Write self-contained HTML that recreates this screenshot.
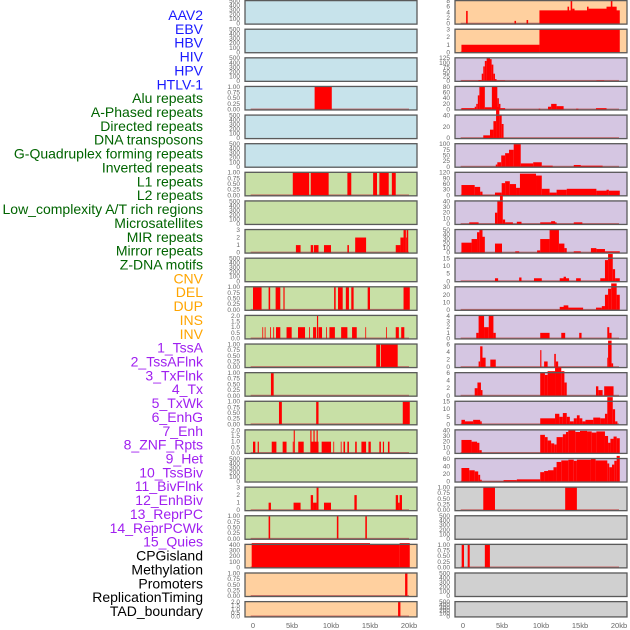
<!DOCTYPE html>
<html><head><meta charset="utf-8"><style>
html,body{margin:0;padding:0;background:#fff;width:630px;height:630px;overflow:hidden}
svg{display:block;font-family:"Liberation Sans",sans-serif}
</style></head><body>
<svg id="chart" width="630" height="630" viewBox="0 0 630 630" xmlns="http://www.w3.org/2000/svg"></svg>
<script>
const labels=["AAV2","EBV","HBV","HIV","HPV","HTLV-1","Alu repeats","A-Phased repeats","Directed repeats","DNA transposons","G-Quadruplex forming repeats","Inverted repeats","L1 repeats","L2 repeats","Low_complexity A/T rich regions","Microsatellites","MIR repeats","Mirror repeats","Z-DNA motifs","CNV","DEL","DUP","INS","INV","1_TssA","2_TssAFlnk","3_TxFlnk","4_Tx","5_TxWk","6_EnhG","7_Enh","8_ZNF_Rpts","9_Het","10_TssBiv","11_BivFlnk","12_EnhBiv","13_ReprPC","14_ReprPCWk","15_Quies","CPGisland","Methylation","Promoters","ReplicationTiming","TAD_boundary"];
const labelColors=[].concat(Array(6).fill("#1a1aff"),Array(13).fill("#006400"),Array(5).fill("#ffa500"),Array(15).fill("#a020f0"),Array(5).fill("#000000"));
const xTicks=[0,5,10,15,20];
const xTickLabels=["0","5kb","10kb","15kb","20kb"];
const T500=[0,100,200,300,400,500],T1=[0,0.25,0.5,0.75,1];
// left column panels (rows 0..21)
const leftBg=["b","b","b","b","b","b","g","g","g","g","g","g","g","g","g","g","g","g","g","o","o","o"];
const leftTicks=[T500,T500,T500,T1,T500,T500,T1,T500,[0,1,2,3],T500,T1,[0,0.5,1,1.5,2],T1,T1,T1,[0,0.5,1,1.5,2],T500,[0,1,2,3],T1,[0,100,200,300,400],T1,[0,0.5,1,1.5,2]];
const leftSegs=[[],[],[],[[7.9,10.1,1]],[],[],
[[5.1,7.2,1],[7.4,9.7,1],[12.1,12.6,1],[15.4,15.9,1],[16.2,17.4,1],[17.8,18.3,1]],
[],
[[5.5,6.1,1],[7.4,7.7,1],[7.8,8.4,1],[9.1,10,1],[12.1,12.3,1],[13.1,14.5,2],[18.3,18.9,1],[18.9,19.3,2],[19.3,19.6,3],[19.6,19.7,2],[19.7,19.9,3]],
[],
[[0,1.1,1],[2,2.2,1],[2.9,3.5,1],[3.9,4.05,1],[10.4,10.6,1],[10.9,11.5,1],[11.9,12.3,1],[12.6,12.9,1],[14.7,15,1],[19.3,20.1,1]],
[[1.2,1.3,1],[1.5,1.6,1],[2.2,2.3,1],[2.6,2.7,1],[2.95,3.5,1],[4.3,4.96,1],[5.77,6.67,1],[7.2,7.3,1],[7.7,8.1,1],[8.2,8.35,2],[8.4,8.85,1],[9.36,9.46,1],[9.8,10.5,1],[11.3,12.1,1],[12.7,13.3,1],[14.4,14.5,1],[17.05,17.15,1],[18.3,18.7,1],[19.0,19.4,1]],
[[15.8,16.3,1],[16.4,18.55,1]],
[[2.3,2.65,1]],
[[3.33,3.7,1],[8.1,8.4,1],[19.2,20.1,1]],
[[0,0.3,1],[0.6,0.75,1],[2.4,3.0,1],[3.8,4.3,1],[5.1,5.2,1],[5.22,5.36,2],[5.8,6.5,1],[7.4,8.4,1],[7.35,7.5,2],[7.75,7.9,2],[8.15,8.3,2],[8.8,10.0,1],[10.3,10.4,1],[11.25,11.35,1],[11.6,11.8,1],[12.1,12.3,1],[13.1,13.3,1],[13.9,14.5,1],[14.8,15.1,1],[16.2,16.4,1],[16.65,16.8,1],[17.3,17.5,1]],
[],
[[2.0,2.3,1],[5.2,6.1,1],[7.4,7.7,2],[7.7,8.15,1],[8.15,8.4,3],[9.1,10,1],[13.0,13.3,2],[18.3,18.6,2],[18.6,18.8,1],[18.8,19.1,2]],
[[2.0,2.2,1],[10.75,10.95,1],[14.4,14.6,1]],
[[-0.17,15,430],[15,18.8,405],[18.8,20.1,430]],
[[19.5,19.8,1]],
[[18.6,18.9,2]]];
// right column panels (rows 0..21)
const rightBg=["o","o","p","p","p","p","p","p","p","p","p","p","p","p","p","p","p","y","y","y","y","y"];
const rightTicks=[[0,2,4,6,8],[0,1,2,3],[0,25,50,75,100,125],[0,20,40,60,80],[0,20,40],[0,25,50,75,100],[0,30,60,90,120],[0,10,20,30,40],[0,10,20,30,40,50],[0,5,10,15],[0,10,20,30],[0,1,2,3,4],[0,2,4,6],[0,2,4,6],[0,5,10,15],[0,10,20,30,40],[0,20,40,60],T1,T500,T1,T500,T500];
const rightSegs=[
[[0.4,0.6,4.5],[6.6,6.8,1],[8.15,8.35,1.3],[9.8,20.1,4.7],[13.4,13.6,6],[13.8,14.0,8.5],[14.0,14.3,5.3],[15.9,16.1,6],[16.1,18.4,5.3],[18.4,19.7,6],[18.95,19.15,8.5]],
[[-0.2,9.8,1],[9.8,20.1,3]],
[[-0.2,1.97,2],[1.97,2.4,5],[2.4,2.6,40],[2.6,2.8,80],[2.8,3.03,110],[3.03,3.46,125],[3.46,3.67,120],[3.67,3.89,90],[3.89,4.1,40],[4.1,4.3,10],[4.3,5.4,3],[17.1,18.1,3]],
[[-0.2,1.5,5],[1.5,1.7,10],[1.7,1.9,20],[1.9,2.1,50],[2.1,2.8,80],[2.8,3.7,8],[3.7,4.4,80],[4.4,4.6,40],[4.6,4.8,20],[4.8,5.4,5],[9.7,9.9,3],[10.9,11.3,10],[11.3,12.0,20],[12.0,12.9,12],[14.5,14.8,3],[17.05,18.4,5]],
[[2.6,3.46,5],[3.46,3.9,15],[3.9,4.24,30],[4.24,4.66,55],[4.66,4.96,40],[4.96,5.2,25]],
[[4.2,4.4,10],[4.4,4.9,20],[4.9,5.4,50],[5.4,5.9,60],[5.9,6.5,75],[6.5,7.4,100],[7.4,9.0,15],[9.0,10.1,20],[10.1,11.5,5],[14.2,15.1,8],[15.1,17.9,5]],
[[-0.2,1.5,55],[1.5,2.2,45],[2.2,2.5,20],[2.5,4.1,3],[4.1,4.96,15],[4.96,5.4,65],[5.4,6.0,75],[6.0,6.8,60],[6.8,7.3,40],[7.3,9.36,115],[9.36,10.1,105],[10.1,11.1,35],[11.1,12.0,15],[12.0,13.3,30],[13.3,17.1,35],[17.1,18.4,25],[18.4,18.7,30],[18.7,20.1,25]],
[[0.8,2.0,3],[4.1,4.4,20],[4.4,4.74,40],[4.74,5.1,50],[5.1,5.4,8],[5.4,6.4,3],[6.9,7.5,4],[9.9,12.0,3],[11.3,11.8,5],[14.2,15.3,3]],
[[-0.2,1.1,22],[1.1,1.8,30],[1.8,2.1,45],[2.1,2.5,50],[2.5,2.8,35],[4.1,5.0,20],[6.7,7.2,3],[9.5,9.9,5],[9.9,11.1,30],[11.1,12.3,50],[12.3,13.0,20],[13.0,13.3,10],[14.2,15.1,3],[16.4,17.1,10],[17.1,18.2,8],[18.2,20.1,3]],
[[4.1,4.5,2],[7.2,7.5,2.5],[9.1,10.1,2],[12.4,13.6,2],[12.9,13.2,3],[14.5,15.1,2],[17.6,18.2,2],[18.2,18.6,14],[18.6,19.2,18],[19.2,19.5,8],[19.5,20.1,2]],
[[12.4,13.5,4],[12.9,13.5,6],[13.5,15.4,3],[17.05,17.8,3],[17.8,18.2,5],[18.2,18.6,20],[18.6,19.0,28],[19.0,19.7,35],[19.7,20.1,20]],
[[1.7,2.0,1],[2.0,2.7,4],[2.7,3.3,2],[3.3,3.9,4],[3.9,4.2,1],[9.9,11.1,1],[12.6,13.1,1],[14.9,15.2,1],[18.5,18.75,2],[18.75,19.05,1]],
[[2.0,2.2,1.5],[2.2,2.5,5.5],[2.5,2.9,2.5],[3.5,4.2,2],[9.9,10.05,4.5],[10.4,10.85,1.5],[11.7,11.9,3.5],[11.9,12.2,1.5],[18.5,18.6,2.5],[18.6,19.05,7],[19.05,19.25,1]],
[[1.5,1.85,2],[1.85,2.3,3.5],[2.3,2.5,1.5],[9.9,10.5,6],[10.5,10.85,5.5],[10.85,11.8,6.5],[11.8,12.6,7.5],[12.6,13.0,6.5],[13.0,13.3,3.5],[17.05,17.35,2.5],[17.35,17.9,1.5],[18.1,19.3,2.5]],
[[-0.2,0.25,3],[0.25,1.3,2],[1.3,2.2,3],[2.2,2.4,2],[9.9,11.8,4],[11.8,12.35,7],[12.35,12.8,5],[12.8,13.3,7.5],[13.3,13.7,5],[13.7,14.2,2],[14.2,14.6,4],[14.6,14.95,6],[14.95,15.3,4],[15.3,15.7,2],[15.7,16.7,3],[16.7,17.6,4.5],[17.6,18.2,4],[18.2,18.5,7],[18.5,19.2,18],[19.2,19.5,10],[19.5,19.8,2]],
[[-0.2,1.1,23],[1.1,1.8,20],[1.8,2.1,18],[2.1,2.4,5],[9.9,10.5,32],[10.5,10.85,28],[10.85,11.3,22],[11.3,11.7,17],[11.7,12.0,15],[12.0,12.8,28],[12.8,13.2,33],[13.2,13.5,37],[13.5,14.4,40],[14.4,15.0,37],[15.0,15.9,39],[15.9,16.5,38],[16.5,17.1,36],[17.1,18.2,38],[18.2,18.6,30],[18.6,18.9,18],[18.9,19.3,25],[19.3,19.7,29],[19.7,20.1,26]],
[[-0.2,0.8,36],[0.8,1.5,30],[1.5,1.95,27],[1.95,2.2,18],[2.2,2.4,5],[2.4,5.2,1],[5.2,6.9,4],[6.9,9.9,6],[9.9,10.4,25],[10.4,10.9,28],[10.9,11.6,30],[11.6,12.0,38],[12.0,12.6,52],[12.6,13.5,56],[13.5,14.2,58],[14.2,14.6,55],[14.6,16.4,58],[16.4,17.0,60],[17.0,18.5,56],[18.5,18.75,48],[18.75,19.1,38],[19.1,19.4,45],[19.4,19.7,55],[19.7,20.1,68]],
[[2.6,4.1,1],[13.1,14.6,1]],
[],
[[-0.17,0.13,1],[0.6,0.86,1],[2.8,3.45,1]],
[],
[]];
const bgColors={b:"#c7e3eb",g:"#c8e0a6",o:"#ffd09f",p:"#d5c6e2",y:"#d0d0d0"};
const NS="http://www.w3.org/2000/svg";
const svg=document.getElementById("chart");
function mk(tag,attrs,parent){const e=document.createElementNS(NS,tag);for(const k in attrs)e.setAttribute(k,attrs[k]);(parent||svg).appendChild(e);return e;}
function fmt(v,ticks){const mx=ticks[ticks.length-1];if(mx===1)return v.toFixed(2);if(mx===2&&ticks.length===5)return v.toFixed(1);return String(v);}
// labels
labels.forEach((t,i)=>{
  const e=mk("text",{x:203,y:20+i*13.86,"text-anchor":"end","font-size":"14",fill:labelColors[i]});
  e.textContent=t;
  
  
});
function rowTop(i){return i*28.62;}
function rowH(i){return i===21?16.5:24.7;}
function drawPanel(col,i,bg,ticks,segs){
  const bx=col===0?245:455, bw=172, x0=col===0?253:463, kx=7.8;
  const top=rowTop(i),h=rowH(i),bot=top+h;
  const g=mk("g",{});
  
  
  mk("rect",{x:bx,y:top,width:bw,height:h,fill:bgColors[bg]},g);
  const ymax=ticks[ticks.length-1];
  const yS=v=>bot-1-(v/ymax)*(h-2);
  const xS=k=>x0+k*kx;
  if(segs.length){
    const bl=mk("rect",{x:xS(-0.3),y:bot-2,width:xS(20)-xS(-0.3),height:1.2,fill:"#c05050",opacity:"0.8"},g);
    
    
  }
  segs.forEach(s=>{
    const r=mk("rect",{x:xS(s[0]),y:yS(s[2]),width:Math.max(0.8,xS(s[1])-xS(s[0])),height:bot-1-yS(s[2]),fill:"#ff0000"},g);
    
    
  });
  mk("rect",{x:bx,y:top+0.6,width:bw,height:h-1.2,fill:"none",stroke:"#5a5a5a","stroke-width":"1.3"},g);
  ticks.forEach(v=>{
    const t=mk("text",{x:bx-5,y:yS(v)+2,"text-anchor":"end","font-size":"6.5",fill:"#666"},g);
    t.textContent=fmt(v,ticks);
    
    
  });
}
for(let i=0;i<22;i++){drawPanel(0,i,leftBg[i],leftTicks[i],leftSegs[i]);drawPanel(1,i,rightBg[i],rightTicks[i],rightSegs[i]);}
[253,463].forEach((x0,c)=>{
  xTicks.forEach((k,j)=>{
    const t=mk("text",{x:x0+k*7.8,y:628,"text-anchor":"middle","font-size":"7.5",fill:"#666"});
    t.textContent=xTickLabels[j];
    
    
  });
});
</script>
</body></html>
